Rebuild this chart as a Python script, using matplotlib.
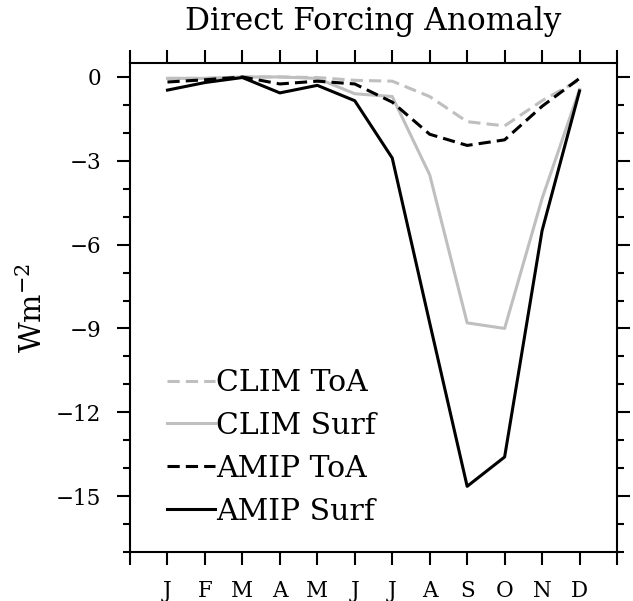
import matplotlib
matplotlib.use("Agg")
import matplotlib.pyplot as plt
from matplotlib.ticker import MultipleLocator

months = ['J', 'F', 'M', 'A', 'M', 'J', 'J', 'A', 'S', 'O', 'N', 'D']
clim_toa = [-0.05, -0.05, 0.0, 0.0, -0.02, -0.12, -0.15, -0.7, -1.6, -1.75, -0.85, -0.1]
clim_surf = [-0.05, -0.05, 0.0, 0.0, -0.05, -0.6, -0.7, -3.5, -8.8, -9.0, -4.35, -0.45]
amip_toa = [-0.18, -0.1, 0.0, -0.25, -0.15, -0.25, -0.9, -2.05, -2.45, -2.25, -1.05, -0.05]
amip_surf = [-0.47, -0.2, -0.02, -0.57, -0.3, -0.85, -2.9, -8.8, -14.65, -13.6, -5.5, -0.5]
labels = ['CLIM ToA', 'CLIM Surf', 'AMIP ToA', 'AMIP Surf']

plt.rcParams['font.family'] = ['DejaVu Serif']
plt.rcParams['mathtext.fontset'] = 'dejavuserif'

W, H = 633, 601
fig = plt.figure(figsize=(W / 100, H / 100), dpi=100)
ax = fig.add_axes([130 / W, 1 - 552 / H, 487 / W, 489 / H])

x = list(range(1, 13))
gray = '#bfbfbf'
lw = 2.2
ax.plot(x, clim_toa, color=gray, lw=lw, dashes=(4, 2), label=labels[0])
ax.plot(x, clim_surf, color=gray, lw=lw, label=labels[1])
ax.plot(x, amip_toa, color='black', lw=lw, dashes=(4, 2), label=labels[2])
ax.plot(x, amip_surf, color='black', lw=lw, label=labels[3])

ax.set_xlim(0, 13)
ax.set_ylim(-17, 0.5)
ax.set_xticks(range(14))
ax.set_xticklabels([''] + months + [''])
ax.yaxis.set_major_locator(MultipleLocator(3))
ax.yaxis.set_minor_locator(MultipleLocator(1))
ax.set_yticks(range(0, -16, -3))
ax.set_yticklabels(['0', '\u22123', '\u22126', '\u22129', '\u221212', '\u221215'])

ax.tick_params(axis='both', which='major', direction='out', length=9.5, width=1.5,
               top=True, right=True, labelsize=15.5, pad=11)
ax.tick_params(axis='y', which='minor', direction='out', length=5, width=1.5,
               right=True)
for s in ax.spines.values():
    s.set_linewidth(1.5)

ax.set_title('Direct Forcing Anomaly', fontsize=22.5, pad=24)
ax.set_ylabel('Wm$^{-2}$', fontsize=21.5, labelpad=6)

leg = ax.legend(loc='upper left', bbox_to_anchor=(167 / W, 1 - 369 / H),
                bbox_transform=fig.transFigure, frameon=False, fontsize=21.5,
                handlelength=1.6, handletextpad=0.05, labelspacing=0.5,
                borderpad=0, borderaxespad=0)

fig.savefig('out.png', dpi=100)
